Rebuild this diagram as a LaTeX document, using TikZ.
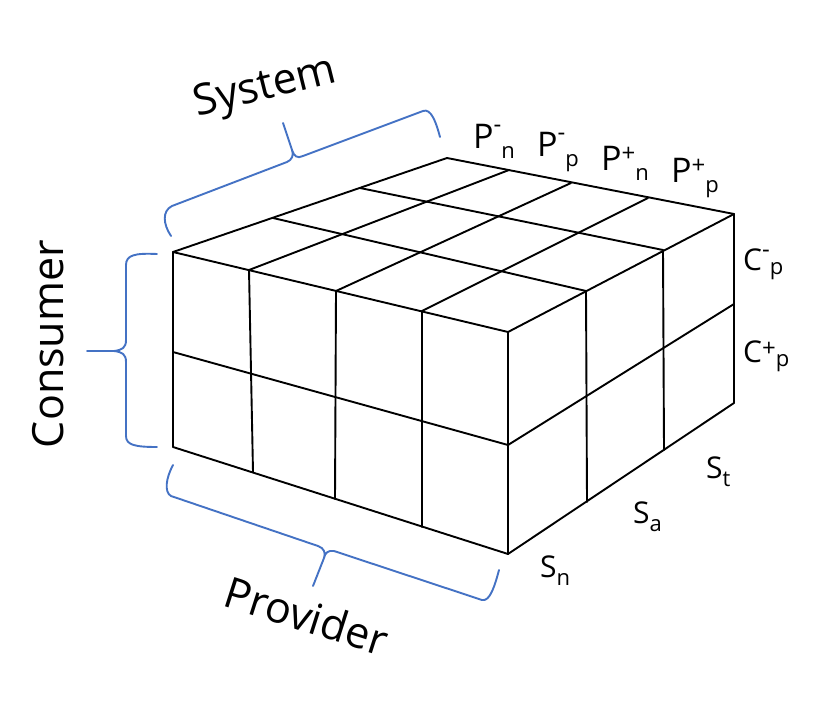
\documentclass[tikz,border=0pt]{standalone}
\usepackage{fontspec}
\setmainfont{Open Sans}
\definecolor{bracecol}{HTML}{4472C4}
\newcommand{\supf}{\fontsize{24}{24}\selectfont}
\newcommand{\subf}{\fontsize{22}{22}\selectfont}
\newcommand{\subS}{\fontsize{22}{22}\selectfont}
% #1 main letter, #2 raise of sup, #3 sup, #4 drop of sub, #5 sub
\newcommand{\mylbl}[5]{#1\raisebox{#2}{\supf #3}\raisebox{#4}{\subf #5}}
\newcommand{\mysl}[2]{#1\raisebox{-8pt}{\subS #2}}
\begin{document}
\begin{tikzpicture}[x=1pt,y=-1pt,
  grid/.style={line width=1.9pt, black, line cap=round, line join=round},
  brace/.style={line width=1.9pt, bracecol, line cap=round, line join=round},
  big/.style={font=\fontsize{43}{50}\selectfont, inner sep=0pt, anchor=base},
  plab/.style={font=\fontsize{34}{40}\selectfont, inner sep=0pt, anchor=base west},
  clab/.style={font=\fontsize{30}{36}\selectfont, inner sep=0pt, anchor=base west}]
\useasboundingbox (0,0) rectangle (829,711);
% top face
\coordinate (F0) at (173,252);
\coordinate (F1) at (249,270);
\coordinate (F2) at (336,291);
\coordinate (F3) at (422,311);
\coordinate (F4) at (508,332);
\coordinate (B0) at (447,158);
\coordinate (B1) at (509,170);
\coordinate (B2) at (571,183);
\coordinate (B3) at (648,198);
\coordinate (B4) at (734,214);
\coordinate (L1) at (273,218);
\coordinate (L2) at (360,188);
\coordinate (R1) at (586,291);
\coordinate (R2) at (663,250);
% front face
\coordinate (FB0) at (173,447);
\coordinate (FB1) at (253,472);
\coordinate (FB2) at (335,499);
\coordinate (FB3) at (422,527);
\coordinate (FB4) at (508,554);
\coordinate (FM0) at (173,352);
\coordinate (FM4) at (508,445);
% right face
\coordinate (RB1) at (587,502);
\coordinate (RB2) at (664,450);
\coordinate (RB4) at (734,403);
\coordinate (RM) at (734,304);

\draw[grid] (F0)--(B0) (F1)--(B1) (F2)--(B2) (F3)--(B3) (F4)--(B4);
\draw[grid] (F0)--(F4) (L1)--(R1) (L2)--(R2) (B0)--(B4);
\draw[grid] (F0)--(FB0) (F1)--(FB1) (F2)--(FB2) (F3)--(FB3) (F4)--(FB4);
\draw[grid] (FM0)--(FM4) (FB0)--(FB4);
\draw[grid] (R1)--(RB1) (R2)--(RB2) (B4)--(RB4);
\draw[grid] (FM4)--(RM) (FB4)--(RB4);

% braces
\draw[brace] (171,236) .. controls (163,224) and (162,211) .. (172,206) -- (287,162)
  .. controls (292,160) and (294,155) .. (292,150) -- (283,123)
  (292,150) .. controls (294,156) and (297,159) .. (303,156) -- (423,111)
  .. controls (431,108) and (436,122) .. (440,137);
\draw[brace] (157,254) .. controls (135,253) and (126,255) .. (126,265) -- (126,340)
  .. controls (126,348) and (122,350) .. (114,351) -- (87,351)
  (114,351) .. controls (122,352) and (126,354) .. (126,362) -- (126,436)
  .. controls (126,445) and (135,447) .. (157,447);
\draw[brace] (173,465) .. controls (166,478) and (164,492) .. (171,496) -- (318,546)
  .. controls (324,548) and (326,553) .. (324,558) -- (313,586)
  (324,558) .. controls (325,553) and (328,550) .. (334,551) -- (482,600)
  .. controls (490,602) and (495,585) .. (499,570);

% big labels
\node[big, rotate=14] (system) at (268,99) {System};
\node[big, rotate=90] (consumer) at (63,344) {Consumer};
\node[big, rotate=-17.7] (provider) at (302,631) {Provider};

% P labels
\node[plab] (pmn) at (473,148.5) {\mylbl{P}{16pt}{-}{-10pt}{n}};
\node[plab] (pmp) at (537,157) {\mylbl{P}{16pt}{-}{-10pt}{p}};
\node[plab] (ppn) at (601,171) {\mylbl{P}{9pt}{+}{-10pt}{n}};
\node[plab] (ppp) at (671,183) {\mylbl{P}{9pt}{+}{-10pt}{p}};
% C labels
\node[clab] (cmp) at (743,270) {\mylbl{C}{13pt}{-}{-4pt}{p}};
\node[clab] (cpp) at (743,362) {\mylbl{C}{6pt}{+}{-4pt}{p}};
% S labels
\node[clab] (sn) at (540,577) {\mysl{S}{n}};
\node[clab] (sa) at (633,523) {\mysl{S}{a}};
\node[clab] (st) at (706,478) {\mysl{S}{t}};
\end{tikzpicture}
\end{document}
